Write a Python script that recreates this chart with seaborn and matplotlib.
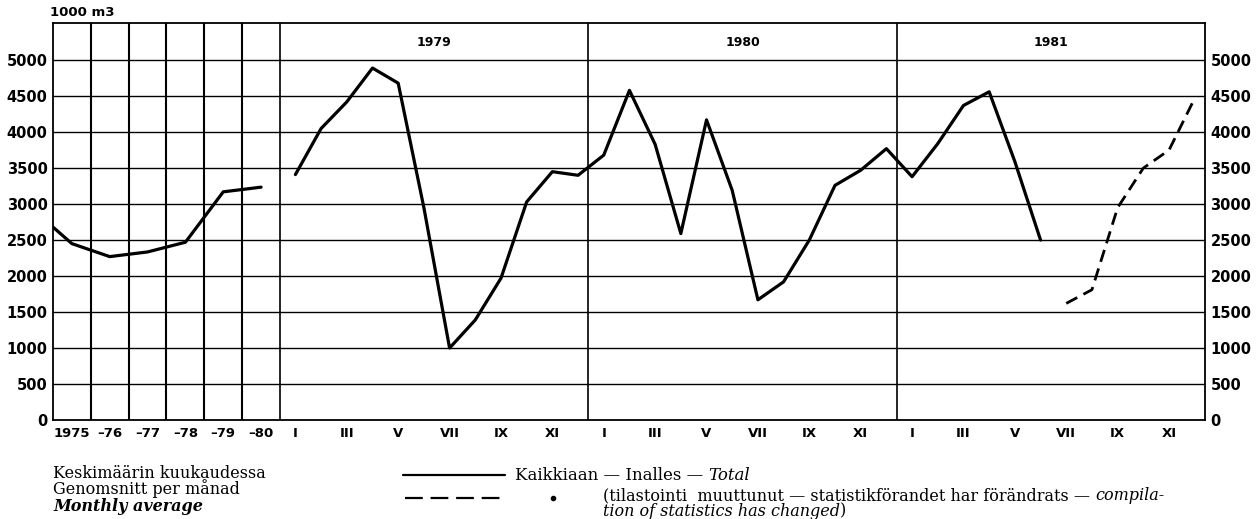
import matplotlib
matplotlib.use("Agg")
import pandas as pd
import matplotlib.pyplot as plt
import seaborn as sns
from matplotlib.lines import Line2D

# annual averages (monthly average per year), 1000 m3
annual_labels = ["1975", "–76", "–77", "–78", "–79", "–80"]
annual_values = [2450, 2270, 2335, 2470, 3170, 3235]
annual_edge_value = 2680  # where the curve enters at the left frame

# monthly totals
years = ["1979", "1980", "1981"]
roman = ["I", "II", "III", "IV", "V", "VI", "VII", "VIII", "IX", "X", "XI", "XII"]
monthly_1979 = [3410, 4050, 4420, 4890, 4680, 2950, 1000, 1390, 1970, 3030, 3450, 3400]
monthly_1980 = [3680, 4580, 3830, 2590, 4170, 3190, 1670, 1920, 2500, 3260, 3470, 3770]
monthly_1981 = [3380, 3840, 4370, 4560, 3590, 2500]
monthly_1981_changed = [1620, 1810, 2950, 3500, 3750, 4470]  # compilation changed

yticks = list(range(0, 5001, 500))

# layout of the x axis: 6 annual columns, then 3 monthly year panels
N_COL = len(annual_labels)
YEAR_W = 8.15
MONTH_W = YEAR_W / 12
X_MAX = N_COL + len(years) * YEAR_W


def month_x(yi, m):
    return N_COL + yi * YEAR_W + (m - 0.4) * MONTH_W


annual = pd.DataFrame({
    "x": [0.0] + [i + 0.5 for i in range(N_COL)],
    "value": [annual_edge_value] + annual_values,
})
solid = pd.DataFrame({
    "x": [month_x(0, m + 1) for m in range(12)]
    + [month_x(1, m + 1) for m in range(12)]
    + [month_x(2, m + 1) for m in range(len(monthly_1981))],
    "value": monthly_1979 + monthly_1980 + monthly_1981,
})
dashed = pd.DataFrame({
    "x": [month_x(2, m + 7) for m in range(len(monthly_1981_changed))],
    "value": monthly_1981_changed,
})

sns.set_style("white")
plt.rcParams["font.family"] = ["DejaVu Sans"]
plt.rcParams["text.color"] = "black"
plt.rcParams["xtick.color"] = "black"
plt.rcParams["ytick.color"] = "black"

W, H = 1256, 519
fig = plt.figure(figsize=(W / 100, H / 100), dpi=100)
ax = fig.add_axes([53 / W, 1 - 420 / H, 1152 / W, 397.3 / H])
ax.set_xlim(0, X_MAX)
ax.set_ylim(0, 5520)

# grid
for v in yticks[1:]:
    ax.axhline(v, color="black", lw=1.0, zorder=1)
for i in range(1, N_COL):
    ax.axvline(i, color="black", lw=1.5, zorder=1)
for yi in range(len(years)):
    ax.axvline(N_COL + yi * YEAR_W, color="black", lw=1.2, zorder=1)
    ax.text(N_COL + (yi + 0.5) * YEAR_W, 5250, years[yi], ha="center", va="center",
            fontsize=9, fontweight="bold", color="black")

sns.lineplot(data=annual, x="x", y="value", color="black", lw=2.3, sort=False,
             estimator=None, ax=ax, zorder=3)
sns.lineplot(data=solid, x="x", y="value", color="black", lw=2.3, sort=False,
             estimator=None, ax=ax, zorder=3)
sns.lineplot(data=dashed, x="x", y="value", color="black", lw=2.0, sort=False,
             estimator=None, ax=ax, zorder=3, linestyle=(0, (4.5, 2.5)))

for s in ax.spines.values():
    s.set_color("black")
    s.set_linewidth(1.3)

ax.set_yticks(yticks)
ax.set_yticklabels([str(v) for v in yticks], fontsize=10.5, fontweight="bold")
ax.tick_params(axis="y", length=0, pad=4, labelright=True, labelcolor="black")

xt = [i + 0.5 for i in range(N_COL)]
xl = list(annual_labels)
for yi in range(len(years)):
    for m in range(1, 13, 2):
        xt.append(month_x(yi, m))
        xl.append(roman[m - 1])
ax.set_xticks(xt)
ax.set_xticklabels(xl, fontsize=9.5, fontweight="bold")
ax.tick_params(axis="x", which="major", length=0, pad=5, labelcolor="black")
minor = [month_x(yi, m) - 0.5 * MONTH_W for yi in range(len(years)) for m in range(2, 13)]
ax.set_xticks(minor, minor=True)
ax.tick_params(axis="x", which="minor", direction="in", length=3, width=1.0, color="black")
ax.set_xlabel("")
ax.set_ylabel("")

fig.text(50 / W, 1 - 13 / H, "1000 m3", fontsize=9.5, fontweight="bold", va="center",
         color="black")

# legend area
serif = "DejaVu Serif"
renderer = fig.canvas.get_renderer()


def run(parts, px, py, size=11.5):
    x = px / W
    for txt, style, weight in parts:
        t = fig.text(x, 1 - py / H, txt, family=serif, fontsize=size, style=style,
                     fontweight=weight, va="baseline", color="black")
        bb = t.get_window_extent(renderer)
        x = bb.x1 / W


run([("Keskimäärin kuukaudessa", "normal", "normal")], 53, 477.5)
run([("Genomsnitt per månad", "normal", "normal")], 53, 494.5)
run([("Monthly average", "italic", "bold")], 53, 511)

fig.add_artist(Line2D([403 / W, 505 / W], [1 - 475 / H] * 2, color="black", lw=1.6))
fig.add_artist(Line2D([405 / W, 500 / W], [1 - 498 / H] * 2, color="black", lw=1.6,
                      linestyle=(0, (8, 3.5))))
fig.add_artist(Line2D([553 / W], [1 - 498 / H], marker="o", ms=3, color="black"))

run([("Kaikkiaan — Inalles — ", "normal", "normal"), ("Total", "italic", "normal")], 515, 479.5, 12)
run([("(tilastointi  muuttunut — statistikförandet har förändrats — ", "normal", "normal"),
     ("compila-", "italic", "normal")], 603, 500.5)
run([("tion of statistics has changed", "italic", "normal"), (")", "normal", "normal")], 603, 515.5)

fig.savefig("out.png", dpi=100)
